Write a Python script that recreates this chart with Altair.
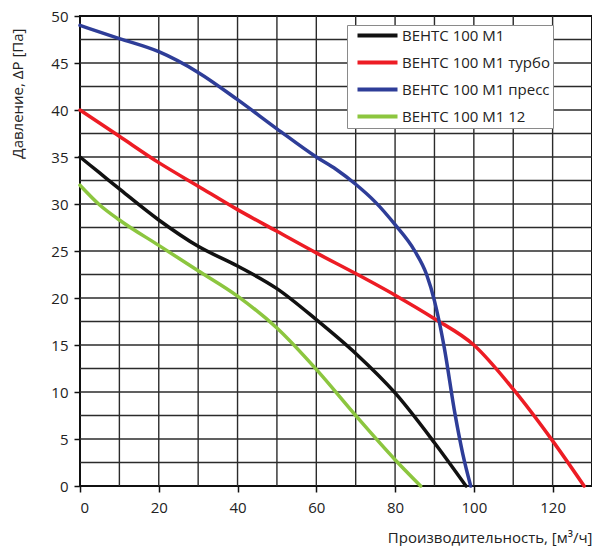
import altair as alt
import pandas as pd

# series names in legend order, with their colours
SERIES = ['ВЕНТС 100 М1', 'ВЕНТС 100 М1 турбо', 'ВЕНТС 100 М1 пресс', 'ВЕНТС 100 М1 12']
COLORS = ['#111111', '#ed1c24', '#2e3d98', '#8cc63f']

# curves: flow [m3/h] -> pressure [Pa]
BASE_X = [0, 5, 10, 20, 30, 40, 50, 60, 70, 80, 90, 98]
BASE_Y = [35.0, 33.3, 31.6, 28.3, 25.5, 23.4, 21.0, 17.7, 14.1, 9.9, 4.6, 0]

TURBO_X = [0, 10, 20, 30, 40, 50, 60, 70, 80, 90, 100, 110, 120, 128]
TURBO_Y = [40.0, 37.2, 34.4, 31.9, 29.4, 27.1, 24.8, 22.6, 20.3, 17.8, 15.0, 10.3, 4.8, 0]

PRESS_X = [0, 10, 20, 30, 40, 50, 60, 65, 70, 75, 80, 85, 88, 90, 91.2, 92.5, 95.2, 97.2, 99.2]
PRESS_Y = [49.0, 47.6, 46.2, 44.0, 41.1, 38.0, 35.0, 33.7, 32.1, 30.2, 27.8, 25.0, 22.5, 19.7, 17.5, 14.7, 7.7, 3.4, 0]

M12_X = [0, 5, 10, 20, 30, 40, 50, 60, 70, 80, 86.5]
M12_Y = [32.0, 29.9, 28.3, 25.6, 22.9, 20.2, 16.8, 12.4, 7.5, 2.8, 0]

# grid lines and tick labels
GRID_X = [10, 20, 30, 40, 50, 60, 70, 80, 90, 100, 110, 120]
GRID_Y = [2.5, 5, 7.5, 10, 12.5, 15, 17.5, 20, 22.5, 25, 27.5, 30, 32.5, 35, 37.5, 40, 42.5, 45, 47.5]
TICKS_X = [0, 20, 40, 60, 80, 100, 120]
TICKS_Y = [0, 5, 10, 15, 20, 25, 30, 35, 40, 45, 50]

FONT = 'Open Sans'
PLOT_W = 512
PLOT_H = 470

rows = []
for name, xs, ys in zip(SERIES, [BASE_X, TURBO_X, PRESS_X, M12_X], [BASE_Y, TURBO_Y, PRESS_Y, M12_Y]):
    for x, y in zip(xs, ys):
        rows.append({'series': name, 'flow': x, 'pressure': y})
df = pd.DataFrame(rows)

x_scale = alt.Scale(domain=[0, 130], nice=False, zero=False)
y_scale = alt.Scale(domain=[0, 50], nice=False, zero=False)

x_axis = alt.Axis(values=TICKS_X, grid=False, domain=False,
                  tickSize=6, tickColor='#111', tickWidth=1.5,
                  labelPadding=8, labelFontSize=15, labelFont=FONT, labelColor='#222',
                  title='Производительность, [м³/ч]',
                  titleFont=FONT, titleFontSize=15, titleFontWeight='normal',
                  titleColor='#222', titleX=PLOT_W, titleY=51,
                  titleAlign='right', titleBaseline='middle')
y_axis = alt.Axis(values=TICKS_Y, grid=False, domain=False,
                  tickSize=6, tickColor='#111', tickWidth=1.5,
                  labelPadding=6, labelFontSize=15, labelFont=FONT, labelColor='#222',
                  title='Давление, ΔP [Па]',
                  titleFont=FONT, titleFontSize=15, titleFontWeight='normal',
                  titleColor='#222', titleX=-63, titleY=12, titleAngle=-90,
                  titleAlign='right', titleBaseline='middle')

grid_v = alt.Chart(pd.DataFrame({'flow': GRID_X})).mark_rule(
    color='#2b2b2b', strokeWidth=1.4
).encode(x=alt.X('flow:Q', scale=x_scale, axis=x_axis))

grid_h = alt.Chart(pd.DataFrame({'pressure': GRID_Y})).mark_rule(
    color='#2b2b2b', strokeWidth=1.4
).encode(y=alt.Y('pressure:Q', scale=y_scale, axis=y_axis))

# long flat legend swatch: a wide path on a small symbol size keeps the rows tight;
# trailing no-break spaces only widen the box to the reference's right margin
legend = alt.Legend(title=None, orient='none', legendX=267, legendY=9,
                    symbolType='M-4,0H4', symbolSize=100, symbolStrokeWidth=4,
                    symbolOffset=20, labelOffset=17, labelLimit=400,
                    labelExpr="datum.label + '\u00a0\u00a0\u00a0\u00a0\u00a0\u00a0'",
                    labelFont=FONT, labelFontSize=15, labelColor='#222',
                    strokeColor='#8a8a8a', fillColor='white',
                    padding=3, rowPadding=10)

lines = alt.Chart(df).mark_line(
    strokeWidth=3.5, interpolate='monotone', strokeCap='round'
).encode(
    x=alt.X('flow:Q', scale=x_scale, axis=x_axis),
    y=alt.Y('pressure:Q', scale=y_scale, axis=y_axis),
    color=alt.Color('series:N', scale=alt.Scale(domain=SERIES, range=COLORS), legend=legend)
)

chart = alt.layer(grid_v, grid_h, lines).properties(
    width=PLOT_W,
    height=PLOT_H,
    autosize=alt.AutoSizeParams(type='none'),
    padding={'left': 72, 'top': 8, 'right': 0, 'bottom': 60}
).configure_view(
    stroke='#111111', strokeWidth=2
)

chart.save("out.html", embed_options={"renderer": "svg", "actions": False})
